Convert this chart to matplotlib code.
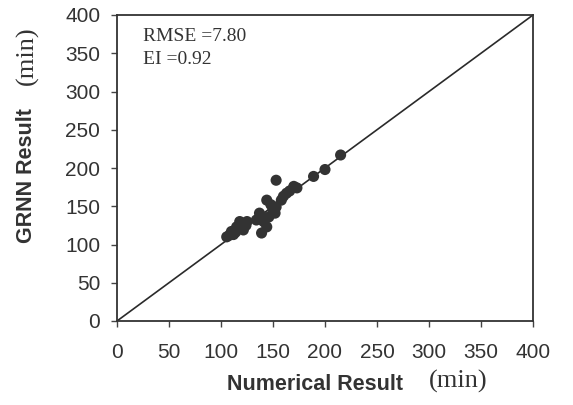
import matplotlib
matplotlib.use("Agg")
import matplotlib.pyplot as plt

# Numerical vs GRNN predicted times (min)
numerical = [215, 200, 189, 153, 173, 170, 166, 163, 158, 160, 144, 153, 148,
             137, 152, 141, 134, 139, 144, 146, 140, 150, 118, 115, 110, 105.5,
             121.5, 124, 120, 112, 108, 117, 114, 125]
grnn = [217, 198, 189, 184, 174, 176, 170, 167, 158, 163, 158, 149, 152,
        141, 141, 130, 132, 115, 123, 136, 136, 145, 130, 123, 117, 110,
        119, 125, 128, 113, 112, 121, 116, 130]

rmse_text = "RMSE =7.80"
ei_text = "EI =0.92"
ticks = [0, 50, 100, 150, 200, 250, 300, 350, 400]

fig = plt.figure(figsize=(5.73, 4.05), dpi=100)
ax = fig.add_axes([117 / 573, 1 - 321 / 405, 416 / 573, 306 / 405])

ax.plot([0, 400], [0, 400], color="#2a2a2a", lw=1.2, zorder=1)
ax.scatter(numerical, grnn, s=64, color="#333333", edgecolors="none", zorder=2)

ax.set_xlim(0, 400)
ax.set_ylim(0, 400)
ax.set_xticks(ticks)
ax.set_yticks(ticks)
tick_font = dict(family="Liberation Sans", size=15, color="#333333")
ax.set_xticklabels([str(t) for t in ticks], **tick_font)
ax.set_yticklabels([str(t) for t in ticks], **tick_font)
ax.tick_params(direction="out", length=4, width=1, color="#444444")
ax.tick_params(axis="x", pad=12)
ax.tick_params(axis="y", pad=8)
for s in ax.spines.values():
    s.set_color("#333333")
    s.set_linewidth(1.3)

ax.text(0.062, 0.93, rmse_text, transform=ax.transAxes, family="Liberation Serif",
        size=14, color="#333333", va="center")
ax.text(0.062, 0.855, ei_text, transform=ax.transAxes, family="Liberation Serif",
        size=14, color="#333333", va="center")

# Axis titles: bold sans part followed by serif unit
fig.text(227 / 573, 1 - 384 / 405, "Numerical Result", family="Liberation Sans",
         weight="bold", size=15.5, color="#333333", ha="left", va="center")
fig.text(488 / 573, 1 - 381 / 405, "(min)", family="Liberation Serif",
         size=19, color="#333333", ha="right", va="center")
fig.text(27 / 573, 1 - 243 / 405, "GRNN Result", family="Liberation Sans",
         weight="bold", size=15.5, color="#333333", rotation=90, ha="center", va="bottom")
fig.text(27 / 573, 1 - 26 / 405, "(min)", family="Liberation Serif",
         size=19, color="#333333", rotation=90, ha="center", va="top")

fig.savefig("out.png", dpi=100)
